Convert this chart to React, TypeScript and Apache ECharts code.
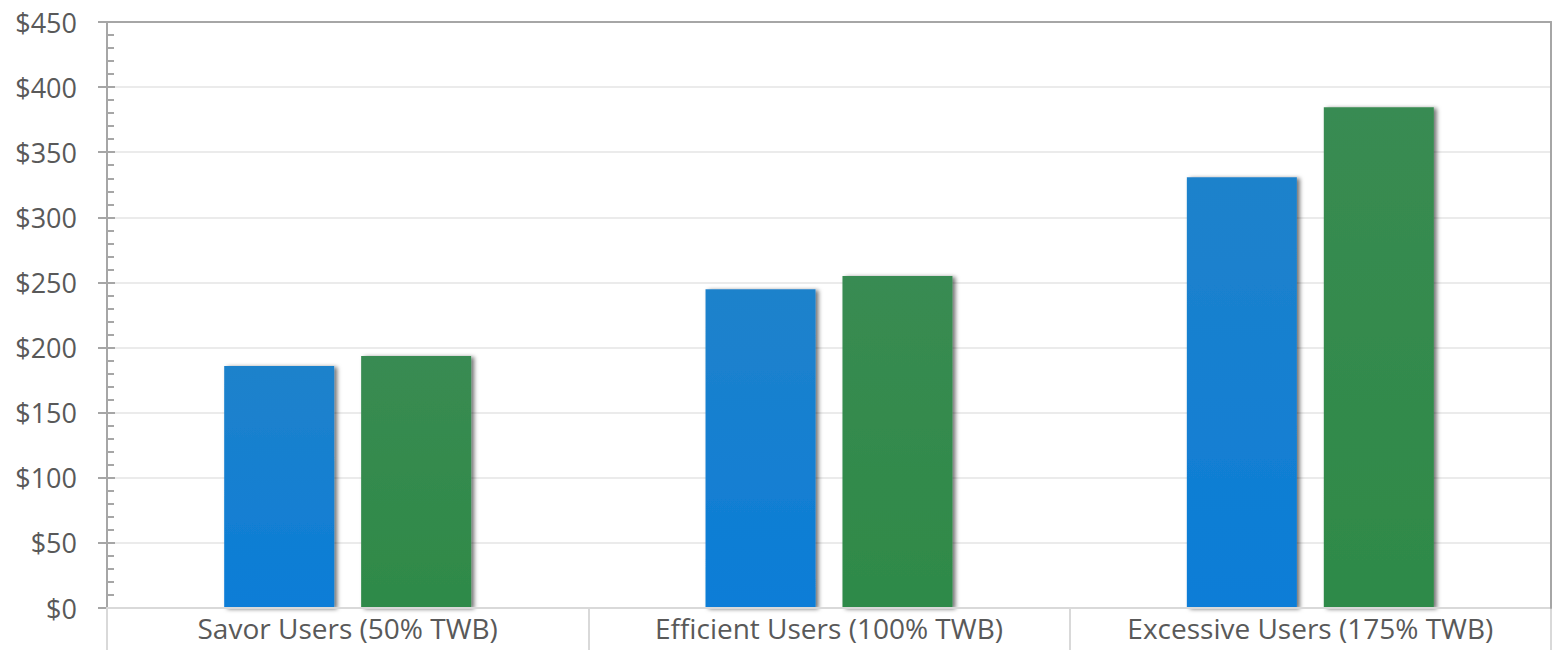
import React, { useEffect, useRef } from "react";
import * as echarts from "echarts";

const categories = [
  "Savor Users (50% TWB)",
  "Efficient Users (100% TWB)",
  "Excessive Users (175% TWB)",
];
const blueValues = [185.8, 244.7, 330.7];
const greenValues = [193.5, 255.0, 384.5];
const yMin = 0;
const yMax = 450;
const yInterval = 50;

const FONT = "'Open Sans', 'Noto Sans', sans-serif";
const TEXT = "#595959";

function barStyle(top: string, bottom: string) {
  return {
    color: new echarts.graphic.LinearGradient(0, 0, 0, 1, [
      { offset: 0, color: top },
      { offset: 1, color: bottom },
    ]),
    shadowColor: "rgba(0,0,0,0.55)",
    shadowBlur: 4,
    shadowOffsetX: 3,
    shadowOffsetY: 1,
  };
}

export default function App() {
  const ref = useRef<HTMLDivElement>(null);

  useEffect(() => {
    document.body.style.margin = "0";
    if (!ref.current) return;
    const chart = echarts.init(ref.current, undefined, { renderer: "svg" });
    const valueAxisBase = {
      type: "value" as const,
      min: yMin,
      max: yMax,
      interval: yInterval,
    };
    chart.setOption({
      animation: false,
      grid: { left: 107, right: 3, top: 22, bottom: 42, containLabel: false },
      xAxis: [
        {
          type: "category",
          data: categories,
          position: "bottom",
          axisLine: { show: true, lineStyle: { color: "#d9d9d9", width: 2 } },
          axisTick: {
            show: true,
            interval: 0,
            length: 42,
            lineStyle: { color: "#d9d9d9", width: 2 },
          },
          axisLabel: {
            interval: 0,
            margin: 6,
            color: TEXT,
            fontSize: 28,
            fontFamily: FONT,
          },
          splitLine: { show: false },
          z: 3,
        },
        {
          type: "category",
          data: categories,
          position: "top",
          axisLine: {
            show: true,
            onZero: false,
            lineStyle: { color: "#a6a6a6", width: 2 },
          },
          axisTick: { show: false },
          axisLabel: { show: false },
          z: 6,
        },
      ],
      yAxis: [
        {
          ...valueAxisBase,
          position: "left",
          axisLine: { show: true, lineStyle: { color: "#a6a6a6", width: 2 } },
          axisTick: {
            show: true,
            inside: false,
            length: 9,
            lineStyle: { color: "#a6a6a6", width: 2 },
          },
          axisLabel: {
            formatter: (v: number) => "$" + v,
            margin: 30,
            color: TEXT,
            fontSize: 27,
            fontFamily: FONT,
          },
          splitLine: { show: true, lineStyle: { color: "#ebebeb", width: 2 } },
        },
        {
          ...valueAxisBase,
          position: "left",
          axisLine: { show: false },
          axisTick: {
            show: true,
            inside: true,
            length: 8,
            lineStyle: { color: "#a6a6a6", width: 2 },
          },
          minorTick: {
            show: true,
            splitNumber: 5,
            length: 7,
            lineStyle: { color: "#a6a6a6", width: 2 },
          },
          axisLabel: { show: false },
          splitLine: { show: false },
        },
        {
          ...valueAxisBase,
          position: "right",
          axisLine: {
            show: true,
            onZero: false,
            lineStyle: { color: "#a6a6a6", width: 2 },
          },
          axisTick: { show: false },
          axisLabel: { show: false },
          splitLine: { show: false },
          z: 6,
        },
      ],
      series: [
        {
          type: "bar",
          data: blueValues,
          barWidth: 110,
          barGap: "24.5%",
          itemStyle: barStyle("#1f82cb", "#0b7dd7"),
        },
        {
          type: "bar",
          data: greenValues,
          barWidth: 110,
          barGap: "24.5%",
          itemStyle: barStyle("#398b52", "#2e8a48"),
        },
      ],
    });
    return () => chart.dispose();
  }, []);

  return <div ref={ref} style={{ width: 1554, height: 650 }} />;
}
